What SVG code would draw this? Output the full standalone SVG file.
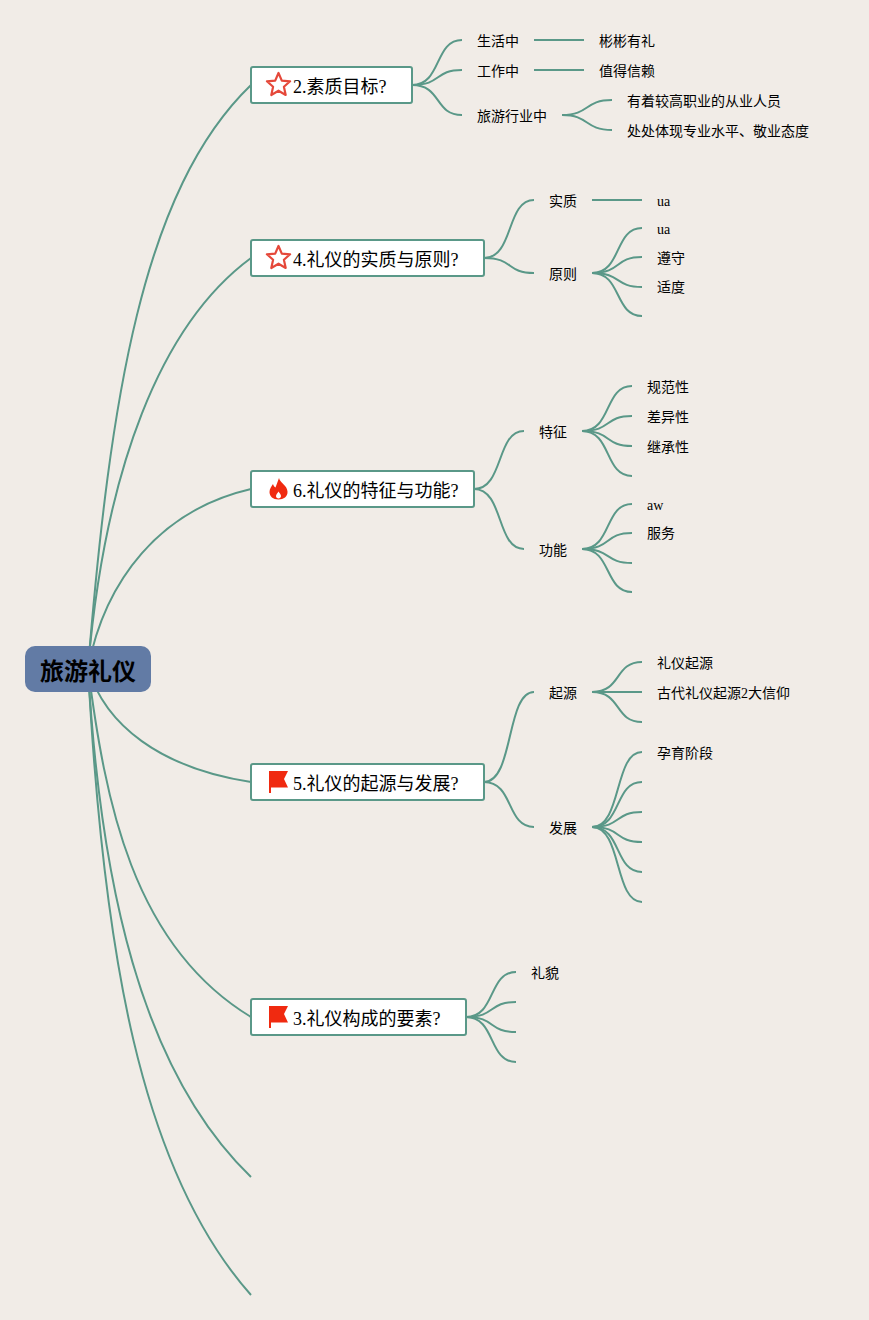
<svg xmlns="http://www.w3.org/2000/svg" width="869" height="1320" viewBox="0 0 869 1320">
<style>
text{font-family:"Liberation Serif","Noto Sans CJK SC",serif;fill:#000}
.t{font-size:18px}.c{font-size:14px}
.r{font-size:24px;font-weight:700;text-anchor:middle}
.b{fill:#fff;stroke:#5a9888;stroke-width:2}
#connectors path{fill:none;stroke:#5a9888;stroke-width:2}
.star{fill:#fff;stroke:#e5483a;stroke-width:2.200;stroke-linejoin:round}
.red{fill:#f02a10}
</style>
<defs>
<path id="star" class="star" d="M0-11.500 3.300-3.900 11.600-3.200 5.400 2.300 7.200 10.500 0 6.200-7.200 10.500-5.400 2.300-11.600-3.200-3.300-3.900Z"/>
<path id="flag" class="red" d="M-10-11H9L5-3 9 5.500H-8V11H-10Z"/>
</defs>
<rect width="869" height="1320" fill="#f1ece7"/>
<g id="connectors">
<path d="M88 668C110 400 142 190 251 85"/>
<path d="M88 668C105 470 160 325 251 258"/>
<path d="M88 668C105 580 160 510 251 489"/>
<path d="M88 668C105 725 160 768 251 782"/>
<path d="M88 668C105 800 132 945 251 1017"/>
<path d="M88 668C100 880 140 1070 251 1177"/>
<path d="M88 668C103 950 140 1170 251 1295"/>
<path d="M412 85C442 85 434 40 462 40"/>
<path d="M412 85C442 85 434 70 462 70"/>
<path d="M412 85C442 85 434 115 462 115"/>
<path d="M534 40H584M534 70H584"/>
<path d="M562 115C590 115 584 100 612 100"/>
<path d="M562 115C590 115 584 130 612 130"/>
<path d="M484 258C514 258 506 200 534 200"/>
<path d="M484 258C514 258 506 273 534 273"/>
<path d="M592 200H642"/>
<path d="M592 273C622 273 614 228 642 228"/>
<path d="M592 273C622 273 614 257 642 257"/>
<path d="M592 273C622 273 614 287 642 287"/>
<path d="M592 273C622 273 614 316 642 316"/>
<path d="M474 489C504 489 496 431 524 431"/>
<path d="M474 489C504 489 496 549 524 549"/>
<path d="M582 431C612 431 604 386 632 386"/>
<path d="M582 431C612 431 604 416 632 416"/>
<path d="M582 431C612 431 604 446 632 446"/>
<path d="M582 431C612 431 604 476 632 476"/>
<path d="M582 549C612 549 604 504 632 504"/>
<path d="M582 549C612 549 604 533 632 533"/>
<path d="M582 549C612 549 604 563 632 563"/>
<path d="M582 549C612 549 604 592 632 592"/>
<path d="M484 782C514 782 506 692 534 692"/>
<path d="M484 782C514 782 506 827 534 827"/>
<path d="M592 692C622 692 614 662 642 662"/>
<path d="M592 692H642"/>
<path d="M592 692C622 692 614 722 642 722"/>
<path d="M592 827C622 827 614 752 642 752"/>
<path d="M592 827C622 827 614 782 642 782"/>
<path d="M592 827C622 827 614 812 642 812"/>
<path d="M592 827C622 827 614 842 642 842"/>
<path d="M592 827C622 827 614 872 642 872"/>
<path d="M592 827C622 827 614 902 642 902"/>
<path d="M466 1017C496 1017 488 972 516 972"/>
<path d="M466 1017C496 1017 488 1002 516 1002"/>
<path d="M466 1017C496 1017 488 1032 516 1032"/>
<path d="M466 1017C496 1017 488 1062 516 1062"/>
</g>
<g id="root"><rect x="25" y="646" width="126" height="46" rx="10" fill="#627ba5"/><text class="r" x="88" y="680">旅游礼仪</text></g>
<g id="n2"><rect class="b" x="251" y="67" width="161" height="36" rx="2"/><use href="#star" x="278.500" y="84.500"/><text class="t" x="293" y="93">2.素质目标?</text></g>
<g id="n4"><rect class="b" x="251" y="240" width="233" height="36" rx="2"/><use href="#star" x="278.500" y="257.500"/><text class="t" x="293" y="266">4.礼仪的实质与原则?</text></g>
<g id="n6"><rect class="b" x="251" y="471" width="223" height="36" rx="2"/><path class="red" d="M279 478C280 483 287 485 287.500 491.500C288 496.500 283.500 499.500 278.500 499.500C273 499.500 269.500 496.500 269.500 492C269.500 488.500 271.500 486.500 273 484C273.500 486 274.500 487 275.500 487.500C276.500 484.500 278 481 279 478ZM278.500 491.500C277.500 493 276 494.500 276 496C276 497.500 277 498.500 278.500 498.500C280 498.500 281 497.500 281 496C281 494.500 279.500 493 278.500 491.500Z" fill-rule="evenodd"/><text class="t" x="293" y="497">6.礼仪的特征与功能?</text></g>
<g id="n5"><rect class="b" x="251" y="764" width="233" height="36" rx="2"/><use href="#flag" x="279" y="782"/><text class="t" x="293" y="790">5.礼仪的起源与发展?</text></g>
<g id="n3"><rect class="b" x="251" y="999" width="215" height="36" rx="2"/><use href="#flag" x="279" y="1017"/><text class="t" x="293" y="1025">3.礼仪构成的要素?</text></g>
<g id="labels" class="c">
<text class="c" x="477" y="46">生活中</text>
<text class="c" x="477" y="76">工作中</text>
<text class="c" x="477" y="121">旅游行业中</text>
<text class="c" x="599" y="46">彬彬有礼</text>
<text class="c" x="599" y="76">值得信赖</text>
<text class="c" x="627" y="106">有着较高职业的从业人员</text>
<text class="c" x="627" y="136">处处体现专业水平、敬业态度</text>
<text class="c" x="549" y="206">实质</text>
<text class="c" x="549" y="279">原则</text>
<text class="c" x="657" y="206">ua</text>
<text class="c" x="657" y="234">ua</text>
<text class="c" x="657" y="263">遵守</text>
<text class="c" x="657" y="292">适度</text>
<text class="c" x="539" y="437">特征</text>
<text class="c" x="539" y="555">功能</text>
<text class="c" x="647" y="392">规范性</text>
<text class="c" x="647" y="422">差异性</text>
<text class="c" x="647" y="452">继承性</text>
<text class="c" x="647" y="510">aw</text>
<text class="c" x="647" y="538">服务</text>
<text class="c" x="549" y="698">起源</text>
<text class="c" x="549" y="833">发展</text>
<text class="c" x="657" y="668">礼仪起源</text>
<text class="c" x="657" y="698">古代礼仪起源2大信仰</text>
<text class="c" x="657" y="758">孕育阶段</text>
<text class="c" x="531" y="978">礼貌</text>
</g>
</svg>
